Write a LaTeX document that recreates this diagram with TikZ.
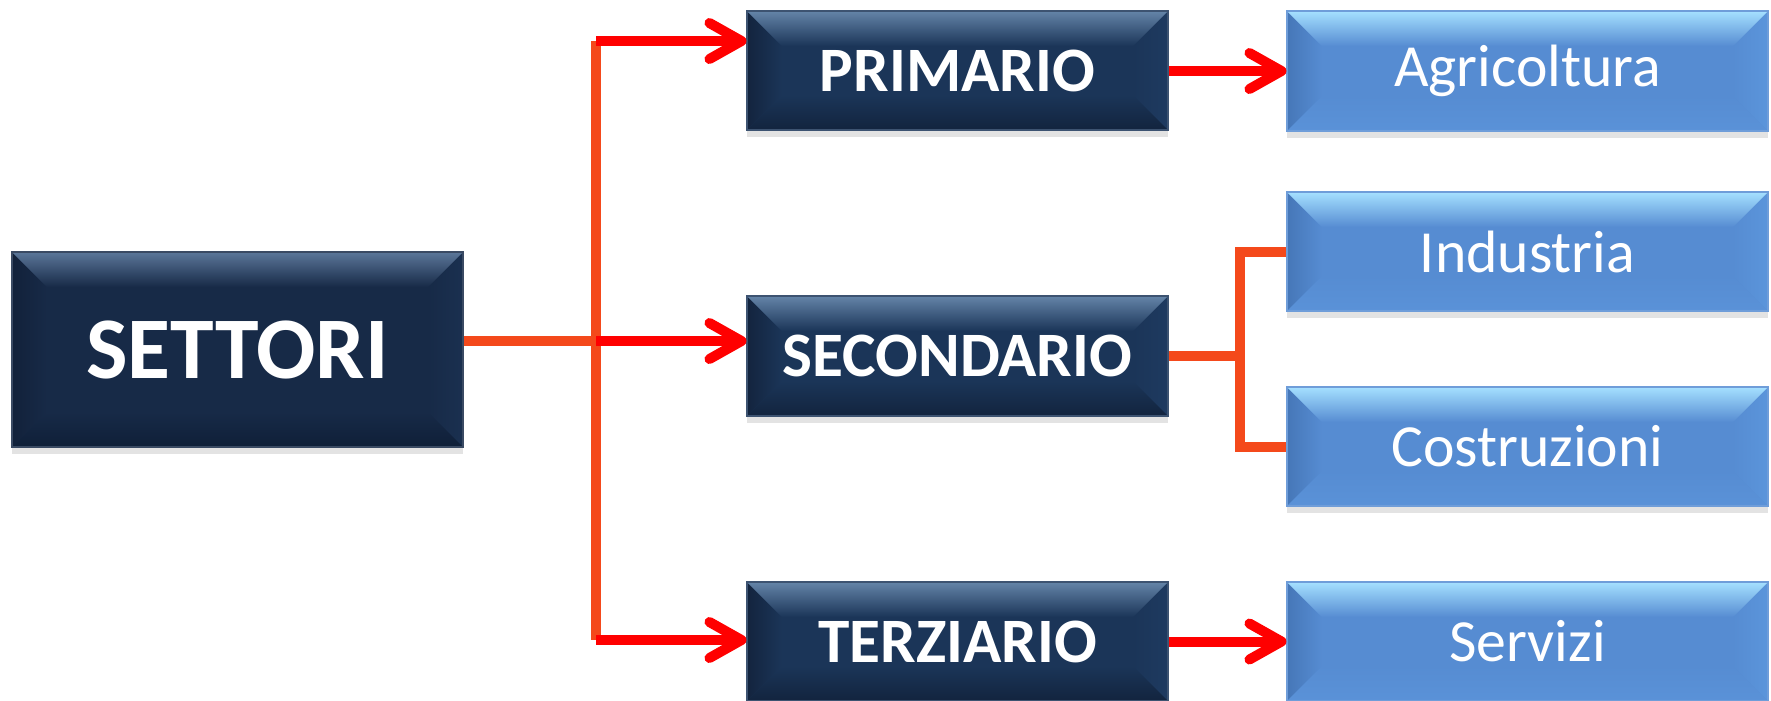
\documentclass[tikz,border=0pt]{standalone}
\usepackage{fontspec}
\setmainfont{Carlito}
\usetikzlibrary{arrows.meta,calc,shadows}
\definecolor{orline}{HTML}{F4491B}
\definecolor{redline}{HTML}{FF0000}
\definecolor{bgb}{HTML}{172A47}\definecolor{bgt}{HTML}{5B7699}\definecolor{bgl}{HTML}{12213A}\definecolor{bgr}{HTML}{1A3050}\definecolor{bgd}{HTML}{0F1F38}
\definecolor{dkb}{HTML}{1B3558}\definecolor{dkt}{HTML}{6484A8}\definecolor{dkl}{HTML}{13243E}\definecolor{dkr}{HTML}{1E3A60}\definecolor{dkd}{HTML}{12243E}
\definecolor{ltb}{HTML}{568CD2}\definecolor{ltt}{HTML}{A5E0FF}\definecolor{ltl}{HTML}{4677B8}\definecolor{ltr}{HTML}{5B95DB}\definecolor{ltd}{HTML}{5A92D8}
\newcommand\bevsz{0.35cm}
\tikzset{
  bevelbox/.style n args={5}{rectangle, inner sep=0pt, fill=#1, draw=#1!85!white, line width=0.3pt,
    drop shadow={shadow xshift=0pt, shadow yshift=-0.7mm, opacity=0.22},
    text=white, align=center,
    path picture={
      \coordinate (bNW) at (path picture bounding box.north west);
      \coordinate (bNE) at (path picture bounding box.north east);
      \coordinate (bSW) at (path picture bounding box.south west);
      \coordinate (bSE) at (path picture bounding box.south east);
      \shade[left color=#3, right color=#1] (bNW) -- ($(bNW)+(\bevsz,-\bevsz)$) -- ($(bSW)+(\bevsz,\bevsz)$) -- (bSW) -- cycle;
      \shade[left color=#1, right color=#4] (bNE) -- ($(bNE)+(-\bevsz,-\bevsz)$) -- ($(bSE)+(-\bevsz,\bevsz)$) -- (bSE) -- cycle;
      \shade[top color=#2, bottom color=#1] (bNW) -- (bNE) -- ($(bNE)+(-\bevsz,-\bevsz)$) -- ($(bNW)+(\bevsz,-\bevsz)$) -- cycle;
      \shade[top color=#1, bottom color=#5] (bSW) -- (bSE) -- ($(bSE)+(-\bevsz,\bevsz)$) -- ($(bSW)+(\bevsz,\bevsz)$) -- cycle;
    }},
  bigbox/.style={bevelbox={bgb}{bgt}{bgl}{bgr}{bgd}, minimum width=4.51cm, minimum height=1.95cm,
    font=\bfseries\fontsize{25}{28}\selectfont},
  darkbox/.style={bevelbox={dkb}{dkt}{dkl}{dkr}{dkd}, minimum width=4.21cm, minimum height=1.19cm,
    font=\bfseries\fontsize{18}{20}\selectfont},
  lightbox/.style={bevelbox={ltb}{ltt}{ltl}{ltr}{ltd}, minimum width=4.81cm, minimum height=1.19cm,
    font=\fontsize{17}{20}\selectfont},
  orconn/.style={draw=orline, line width=1mm},
  redarrow/.style={draw=redline, line width=1mm, -{Straight Barb[length=3.2mm, width=3.6mm, round]}},
}
\begin{document}
\begin{tikzpicture}
\useasboundingbox (0,0) rectangle (17.71,-7);
% boxes
\node[bigbox] (settori) at (2.375,-3.495) {SETTORI};
\node[darkbox] (primario) at (9.575,-0.705) {PRIMARIO};
\node[darkbox, minimum height=1.20cm] (secondario) at (9.575,-3.56) {SECONDARIO};
\node[darkbox] (terziario) at (9.575,-6.415) {TERZIARIO};
\node[lightbox, minimum height=1.20cm] (agricoltura) at (15.275,-0.71) {Agricoltura};
\node[lightbox] (industria) at (15.275,-2.515) {Industria};
\node[lightbox] (costruzioni) at (15.275,-4.465) {Costruzioni};
\node[lightbox] (servizi) at (15.275,-6.415) {Servizi};
% junction points
\coordinate (jt) at (5.96,-0.41);
\coordinate (jm) at (5.96,-3.41);
\coordinate (jb) at (5.96,-6.40);
\coordinate (sj) at (12.40,-3.56);
% orange connectors
\draw[orconn] (settori.east |- jm) -- (jm);
\draw[orconn] (jt) -- (jb);
\draw[orconn] (secondario.east) -- (sj);
\draw[orconn] (industria.west) -| (sj) |- (costruzioni.west);
% red arrows
\draw[redarrow] (jt) -- (primario.west |- jt);
\draw[redarrow] (jm) -- (secondario.west |- jm);
\draw[redarrow] (jb) -- (terziario.west |- jb);
\draw[redarrow] (primario.east |- agricoltura.west) -- (agricoltura.west);
\draw[redarrow] (terziario.east) -- (servizi.west);
\end{tikzpicture}
\end{document}
